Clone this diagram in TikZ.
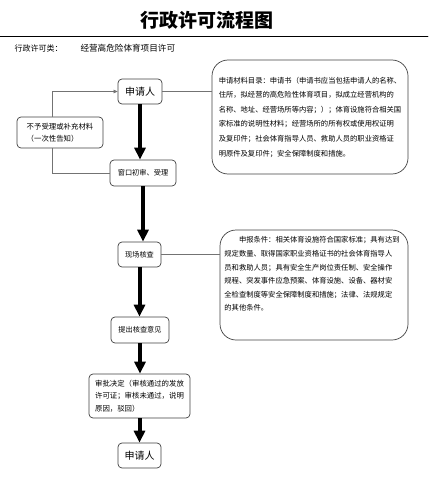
\documentclass[tikz,border=0pt]{standalone}
\usepackage{fontspec}
\setmainfont{Noto Sans CJK SC}
\usepackage{tikz}
\usetikzlibrary{arrows.meta}

\begin{document}
\begin{tikzpicture}[x=1pt,y=-1pt,line cap=round,
    box/.style={draw=black!75,line width=0.7pt,rounded corners=4pt,fill=white,inner sep=1pt,
      font=\fontsize{7.2}{12.5}\selectfont},
    bigbox/.style={draw=black!75,line width=0.7pt,rounded corners=16pt},
    note/.style={align=left,inner sep=0pt},
    link/.style={draw=black!55,line width=0.6pt},
    flow/.style={line width=4pt,line cap=butt,-{Triangle[length=12pt,width=11pt]}}]
  \useasboundingbox (0,0) rectangle (428,500);

  % title and rule
  \node[font=\fontsize{19}{20}\selectfont\bfseries] (title) at (207,20) {行政许可流程图};
  \draw[line width=0.9pt] (0,36) -- (428,36);
  \node[anchor=west,font=\fontsize{8}{9}\selectfont] (kind) at (11,48) {行政许可类：};
  \node[anchor=west,font=\fontsize{8.6}{9}\selectfont] (item) at (77,48) {经营高危险体育项目许可};

  % main steps
  \node[box,minimum width=44,minimum height=25,font=\fontsize{10}{12}\selectfont] (apply) at (140,91.5) {申请人};
  \node[box,minimum width=66,minimum height=26] (accept) at (143,173) {窗口初审、受理};
  \node[box,minimum width=43,minimum height=25] (site) at (139.5,254.5) {现场核查};
  \node[box,minimum width=58,minimum height=26] (opinion) at (140,330) {提出核查意见};
  \node[box,minimum width=101,minimum height=44,align=left,font=\fontsize{7.4}{12.5}\selectfont] (decide) at (139.5,396)
    {审批决定（审核通过的发放\\许可证；审核未通过，说明\\原因，驳回）};
  \node[box,minimum width=43,minimum height=25,font=\fontsize{10}{12}\selectfont] (finish) at (139.5,455.5) {申请人};

  % side box on the left
  \node[box,minimum width=86,minimum height=31,align=left,font=\fontsize{7.4}{12}\selectfont] (refuse) at (60,132.5)
    {不予受理或补充材料\\（一次性告知）};

  % notes on the right
  \node[bigbox,minimum width=196,minimum height=114] (list) at (310,117) {};
  \node[note,font=\fontsize{7.3}{14.6}\selectfont] (listtext) at (310,117)
    {申请材料目录：申请书（申请书应当包括申请人的名称、\\
     住所，拟经营的高危险性体育项目，拟成立经营机构的\\
     名称、地址、经营场所等内容；）；体育设施符合相关国\\
     家标准的说明性材料；经营场所的所有权或使用权证明\\
     及复印件；社会体育指导人员、救助人员的职业资格证\\
     明原件及复印件；安全保障制度和措施。};
  \node[bigbox,minimum width=188,minimum height=110] (cond) at (314,285) {};
  \node[note,font=\fontsize{7.3}{13.6}\selectfont] (condtext) at (312,274)
    {\hspace*{2em}申报条件：相关体育设施符合国家标准；具有达到\\
     规定数量、取得国家职业资格证书的社会体育指导人\\
     员和救助人员；具有安全生产岗位责任制、安全操作\\
     规程、突发事件应急预案、体育设施、设备、器材安\\
     全检查制度等安全保障制度和措施；法律、法规规定\\
     的其他条件。};

  % thin connectors
  \draw[link] (apply.east) -- (apply.east -| list.west);
  \draw[link] (site.east) -- (site.east -| cond.west);
  \draw[link,-{Triangle[length=4pt,width=3.5pt]}] ([xshift=-8pt]refuse.north) |- (apply.west);
  \draw[link] (accept.west) -| ([xshift=-8pt]refuse.south);

  % main flow
  \foreach \a/\b in {apply/accept,accept/site,site/opinion,opinion/decide,decide/finish}{
    \draw[flow] (\a.south) -- (\a.south |- \b.north);
  }
\end{tikzpicture}
\end{document}
